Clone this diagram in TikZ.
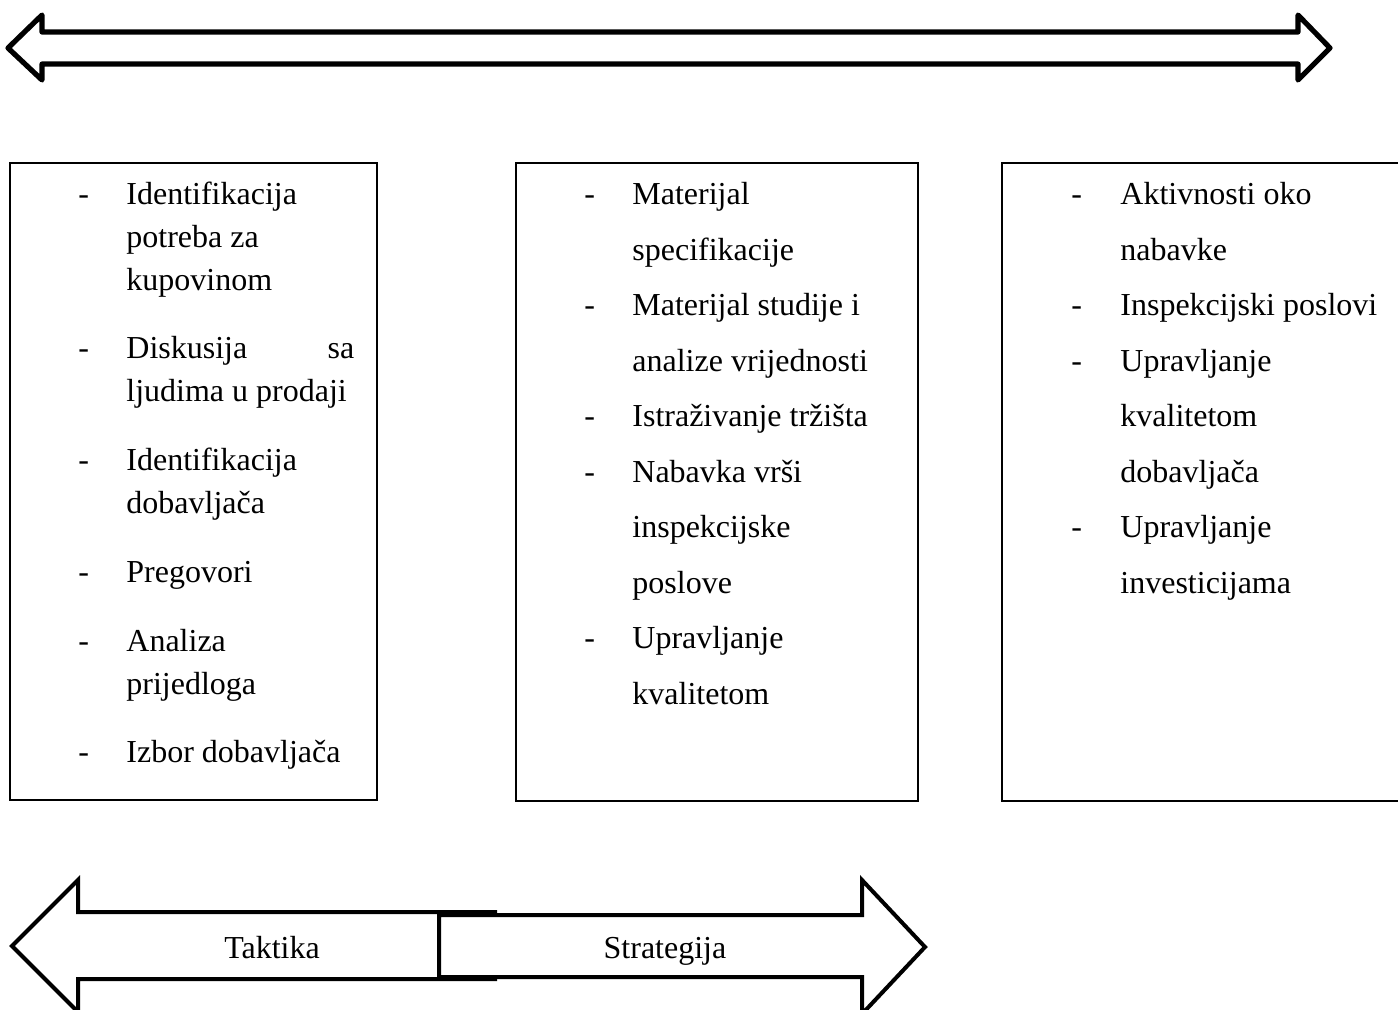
\documentclass[tikz,border=0pt]{standalone}
\usepackage{fontspec}
\setmainfont{Liberation Serif}

\begin{document}
\begin{tikzpicture}[
    x=0.5pt, y=-0.5pt,
    panel/.style={draw, line width=1pt},
    longarrow/.style={draw, fill=white, line width=2.6pt, line join=round},
    blockarrow/.style={draw, fill=white, line width=2pt},
    dashmark/.style={anchor=base west, inner sep=0pt, font=\fontsize{16}{20}\selectfont},
    itemtext/.style={anchor=base west, inner sep=0pt, align=flush left, text width=135pt, font=\fontsize{16}{27.75}\selectfont},
    tightitem/.style={itemtext, text width=114pt, font=\fontsize{16}{21.5}\selectfont},
    arrowtext/.style={anchor=base, inner sep=0pt, font=\fontsize{16}{20}\selectfont}
]
\clip (0,0) rectangle (1398,1009);

% Double arrow on top
\draw[longarrow] (42,32) -- (1298,32) -- (1298,15) -- (1330,48) -- (1298,80) -- (1298,64)
    -- (42,64) -- (42,80) -- (8,48) -- (42,15) -- cycle;

% Three boxes
\draw[panel] (10,163) rectangle (377,800);
\draw[panel] (516,163) rectangle (918,801);
\draw[panel] (1002,163) rectangle (1420,801);

% Left box
\node[dashmark] (ld1) at (78,204.5) {-};
\node[dashmark] (ld2) at (78,358.5) {-};
\node[dashmark] (ld3) at (78,470.5) {-};
\node[dashmark] (ld4) at (78,582.5) {-};
\node[dashmark] (ld5) at (78,651.5) {-};
\node[dashmark] (ld6) at (78,762.5) {-};
\node[tightitem] (l1) at (126,204.5) {Identifikacija\\potreba za\\kupovinom};
\node[tightitem] (l2) at (126,358.5) {Diskusija\hfill sa\\ljudima u prodaji};
\node[tightitem] (l3) at (126,470.5) {Identifikacija\\dobavljača};
\node[tightitem] (l4) at (126,582.5) {Pregovori};
\node[tightitem] (l5) at (126,651.5) {Analiza\\prijedloga};
\node[tightitem] (l6) at (126,762.5) {Izbor dobavljača};

% Middle box
\node[dashmark] (md1) at (584,204.5) {-};
\node[dashmark] (md2) at (584,315.5) {-};
\node[dashmark] (md3) at (584,426.5) {-};
\node[dashmark] (md4) at (584,482) {-};
\node[dashmark] (md5) at (584,648.5) {-};
\node[itemtext] (m1) at (632,204.5) {Materijal\\specifikacije};
\node[itemtext] (m2) at (632,315.5) {Materijal studije i\\analize vrijednosti};
\node[itemtext] (m3) at (632,426.5) {Istraživanje tržišta};
\node[itemtext] (m4) at (632,482) {Nabavka vrši\\inspekcijske\\poslove};
\node[itemtext] (m5) at (632,648.5) {Upravljanje\\kvalitetom};

% Right box
\node[dashmark] (rd1) at (1071,204.5) {-};
\node[dashmark] (rd2) at (1071,315.5) {-};
\node[dashmark] (rd3) at (1071,371) {-};
\node[dashmark] (rd4) at (1071,537.5) {-};
\node[itemtext] (r1) at (1120,204.5) {Aktivnosti oko\\nabavke};
\node[itemtext] (r2) at (1120,315.5) {Inspekcijski poslovi};
\node[itemtext] (r3) at (1120,371) {Upravljanje\\kvalitetom\\dobavljača};
\node[itemtext] (r4) at (1120,537.5) {Upravljanje\\investicijama};

% Taktika / Strategija arrows
\draw[blockarrow] (495,912) -- (78,912) -- (78,880) -- (12,946) -- (78,1012) -- (78,979)
    -- (495,979) -- cycle;
\draw[blockarrow] (439,915) -- (862,915) -- (862,880) -- (925,947) -- (862,1014) -- (862,977)
    -- (439,977) -- cycle;
\node[arrowtext] (taktika) at (272,958) {Taktika};
\node[arrowtext] (strategija) at (665,958) {Strategija};

\end{tikzpicture}
\end{document}
